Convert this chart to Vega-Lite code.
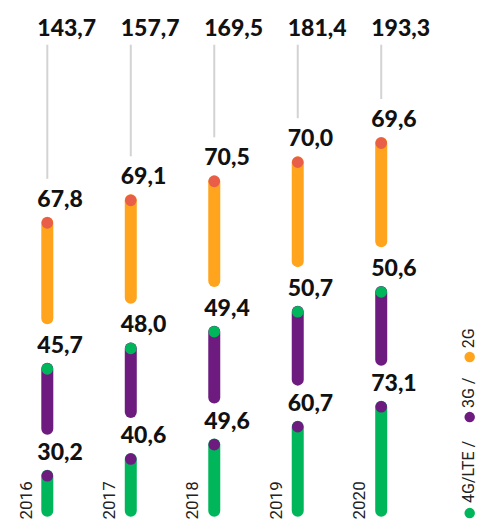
{
  "$schema": "https://vega.github.io/schema/vega-lite/v6.json",
  "width": 478,
  "height": 520,
  "padding": 0,
  "autosize": {"type": "none"},
  "background": "white",
  "config": {
    "view": {"stroke": null},
    "axis": {"disable": true},
    "locale": {"number": {"decimal": ",", "thousands": ".", "grouping": [3], "currency": ["", " €"]}}
  },
  "layer": [
    {
      "data": {
        "values": [
          {"year": "2016", "tech": "4G/LTE", "order": 0, "value": 30.2},
          {"year": "2016", "tech": "3G", "order": 1, "value": 45.7},
          {"year": "2016", "tech": "2G", "order": 2, "value": 67.8},
          {"year": "2017", "tech": "4G/LTE", "order": 0, "value": 40.6},
          {"year": "2017", "tech": "3G", "order": 1, "value": 48.0},
          {"year": "2017", "tech": "2G", "order": 2, "value": 69.1},
          {"year": "2018", "tech": "4G/LTE", "order": 0, "value": 49.6},
          {"year": "2018", "tech": "3G", "order": 1, "value": 49.4},
          {"year": "2018", "tech": "2G", "order": 2, "value": 70.5},
          {"year": "2019", "tech": "4G/LTE", "order": 0, "value": 60.7},
          {"year": "2019", "tech": "3G", "order": 1, "value": 50.7},
          {"year": "2019", "tech": "2G", "order": 2, "value": 70.0},
          {"year": "2020", "tech": "4G/LTE", "order": 0, "value": 73.1},
          {"year": "2020", "tech": "3G", "order": 1, "value": 50.6},
          {"year": "2020", "tech": "2G", "order": 2, "value": 69.6}
        ]
      },
      "transform": [
        {"stack": "value", "groupby": ["year"], "sort": [{"field": "order", "order": "ascending"}], "as": ["v0", "v1"]},
        {"calculate": "datum.order == 0 ? 0 : (datum.order == 1 ? 20.8 : 43.8)", "as": "off"},
        {"calculate": "datum.v1 + datum.off", "as": "top"},
        {"calculate": "datum.v0 + datum.off + 8.5", "as": "bot"},
        {"joinaggregate": [{"op": "sum", "field": "value", "as": "total"}], "groupby": ["year"]}
      ],
      "encoding": {
        "x": {
          "field": "year",
          "type": "ordinal",
          "scale": {"type": "point", "domain": ["2016", "2017", "2018", "2019", "2020", "L"], "range": [47.3, 464.7], "padding": 0},
          "axis": null
        }
      },
      "layer": [
        {
          "transform": [
            {"filter": "datum.tech == '2G'"},
            {"calculate": "datum.top + 27.4", "as": "rt"}
          ],
          "mark": {"type": "rule", "color": "#d3d3d3", "strokeWidth": 2},
          "encoding": {
            "y": {"field": "rt", "type": "quantitative", "scale": {"type": "linear", "domain": [2.7, 326.1], "nice": false, "zero": false}, "axis": null},
            "y2": {"datum": 298.3}
          }
        },
        {
          "mark": {"type": "rule", "strokeWidth": 12, "strokeCap": "round"},
          "encoding": {
            "y": {"field": "bot", "type": "quantitative", "scale": {"type": "linear", "domain": [2.7, 326.1], "nice": false, "zero": false}, "axis": null},
            "y2": {"field": "top"},
            "stroke": {
              "field": "tech",
              "type": "nominal",
              "scale": {"domain": ["4G/LTE", "3G", "2G"], "range": ["#00b65a", "#6e1b7f", "#ffa41c"]},
              "legend": null
            }
          }
        },
        {
          "mark": {"type": "circle", "size": 135, "opacity": 1},
          "encoding": {
            "y": {"field": "top", "type": "quantitative", "scale": {"type": "linear", "domain": [2.7, 326.1], "nice": false, "zero": false}, "axis": null},
            "fill": {
              "field": "tech",
              "type": "nominal",
              "scale": {"domain": ["4G/LTE", "3G", "2G"], "range": ["#6e1b7f", "#00b65a", "#e95e48"]},
              "legend": null
            }
          }
        },
        {
          "mark": {"type": "text", "align": "left", "baseline": "alphabetic", "dx": -10, "dy": -16, "font": "Lato", "fontSize": 23, "fontWeight": 900, "color": "#111111"},
          "encoding": {
            "y": {"field": "top", "type": "quantitative", "scale": {"type": "linear", "domain": [2.7, 326.1], "nice": false, "zero": false}, "axis": null},
            "text": {"field": "value", "type": "quantitative", "format": ".1f"}
          }
        },
        {
          "transform": [{"filter": "datum.tech == '2G'"}],
          "mark": {"type": "text", "align": "left", "baseline": "alphabetic", "dx": -10, "font": "Lato", "fontSize": 23, "fontWeight": 900, "color": "#111111"},
          "encoding": {
            "y": {"datum": 303.7, "type": "quantitative", "scale": {"type": "linear", "domain": [2.7, 326.1], "nice": false, "zero": false}, "axis": null},
            "text": {"field": "total", "type": "quantitative", "format": ".1f"}
          }
        },
        {
          "transform": [{"filter": "datum.tech == '4G/LTE'"}],
          "mark": {"type": "text", "angle": 270, "align": "left", "baseline": "middle", "dy": -20.8, "font": "Roboto", "fontSize": 17, "color": "#222222"},
          "encoding": {
            "y": {"datum": 3, "type": "quantitative", "scale": {"type": "linear", "domain": [2.7, 326.1], "nice": false, "zero": false}, "axis": null},
            "text": {"field": "year", "type": "nominal"}
          }
        }
      ]
    },
    {
      "data": {"values": [{}]},
      "layer": [
        {
          "mark": {"type": "circle", "size": 110, "opacity": 1, "xOffset": 5, "fill": "#00b65a"},
          "encoding": {
            "x": {"datum": "L", "type": "ordinal"},
            "y": {"datum": 7.0, "type": "quantitative", "scale": {"type": "linear", "domain": [2.7, 326.1], "nice": false, "zero": false}, "axis": null}
          }
        },
        {
          "mark": {"type": "text", "text": "4G/LTE /", "angle": 270, "align": "left", "baseline": "middle", "dy": 4.5, "font": "Roboto", "fontSize": 16, "color": "#222222"},
          "encoding": {
            "x": {"datum": "L", "type": "ordinal"},
            "y": {"datum": 13.2, "type": "quantitative", "scale": {"type": "linear", "domain": [2.7, 326.1], "nice": false, "zero": false}, "axis": null}
          }
        },
        {
          "mark": {"type": "circle", "size": 110, "opacity": 1, "xOffset": 5, "fill": "#6e1b7f"},
          "encoding": {
            "x": {"datum": "L", "type": "ordinal"},
            "y": {"datum": 66.7, "type": "quantitative", "scale": {"type": "linear", "domain": [2.7, 326.1], "nice": false, "zero": false}, "axis": null}
          }
        },
        {
          "mark": {"type": "text", "text": "3G /", "angle": 270, "align": "left", "baseline": "middle", "dy": 4.5, "font": "Roboto", "fontSize": 16, "color": "#222222"},
          "encoding": {
            "x": {"datum": "L", "type": "ordinal"},
            "y": {"datum": 72.3, "type": "quantitative", "scale": {"type": "linear", "domain": [2.7, 326.1], "nice": false, "zero": false}, "axis": null}
          }
        },
        {
          "mark": {"type": "circle", "size": 110, "opacity": 1, "xOffset": 5, "fill": "#ffa41c"},
          "encoding": {
            "x": {"datum": "L", "type": "ordinal"},
            "y": {"datum": 104.1, "type": "quantitative", "scale": {"type": "linear", "domain": [2.7, 326.1], "nice": false, "zero": false}, "axis": null}
          }
        },
        {
          "mark": {"type": "text", "text": "2G", "angle": 270, "align": "left", "baseline": "middle", "dy": 4.5, "font": "Roboto", "fontSize": 16, "color": "#222222"},
          "encoding": {
            "x": {"datum": "L", "type": "ordinal"},
            "y": {"datum": 109.5, "type": "quantitative", "scale": {"type": "linear", "domain": [2.7, 326.1], "nice": false, "zero": false}, "axis": null}
          }
        }
      ]
    }
  ]
}
